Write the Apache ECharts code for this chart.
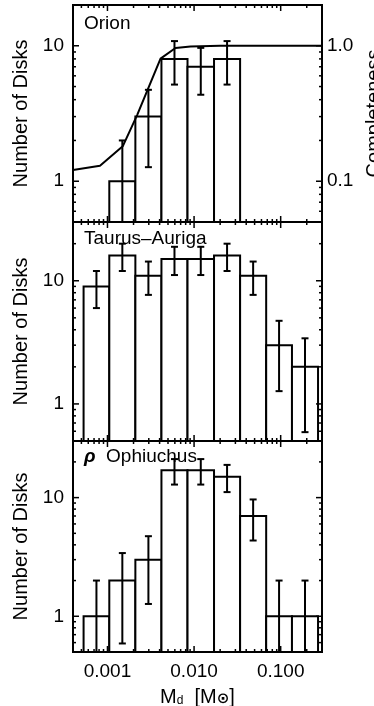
<!DOCTYPE html>
<html><head><meta charset="utf-8">
<script src="https://cdn.jsdelivr.net/npm/echarts@6/dist/echarts.min.js"></script>
<style>html,body{margin:0;padding:0;background:#fff}#c{width:374px;height:706px}</style>
</head><body><div id="c"></div>
<script>
// ---- data ----
const binEdges = [0.00053, 0.00105, 0.0021, 0.0042, 0.0084, 0.017, 0.034, 0.068, 0.135, 0.27];
const orionCounts = [0, 1, 3, 8, 7, 8, 0, 0, 0];
const orionErrLo  = [null, 0, 1.27, 5.17, 4.35, 5.17, null, null, null];
const orionErrHi  = [null, 2, 4.73, 10.83, 9.65, 10.83, null, null, null];
const taurusCounts = [9, 16, 11, 15, 15, 16, 11, 3, 2];
const taurusErrLo  = [6, 12, 7.68, 11.13, 11.13, 12, 7.68, 1.27, 0.59];
const taurusErrHi  = [12, 20, 14.32, 18.87, 18.87, 20, 14.32, 4.73, 3.41];
const ophCounts = [1, 2, 3, 17, 17, 15, 7, 1, 1];
const ophErrLo  = [0, 0.59, 1.27, 12.88, 12.88, 11.13, 4.35, 0, 0];
const ophErrHi  = [2, 3.41, 4.73, 21.12, 21.12, 18.87, 9.65, 2, 2];
const complMass  = [0.0004, 0.00082, 0.0015, 0.0022, 0.0041, 0.0061, 0.0091, 0.02, 0.3];
const complValue = [0.121, 0.130, 0.181, 0.308, 0.804, 0.962, 0.988, 1.0, 1.0];
const panelNames = ['Orion', 'Taurus–Auriga', '{r|ρ}  Ophiuchus'];
const xMajorTicks = [0.001, 0.01, 0.1];
const xMinorTicks = [0.0005, 0.0006, 0.0007, 0.0008, 0.0009, 0.002, 0.003, 0.004, 0.005, 0.006, 0.007, 0.008, 0.009,
                     0.02, 0.03, 0.04, 0.05, 0.06, 0.07, 0.08, 0.09, 0.2];
const yMajorTicks = [1, 10];
const yMinorTicks = [0.6, 0.7, 0.8, 0.9, 2, 3, 4, 5, 6, 7, 8, 9, 20];

// ---- layout ----
const FONT = '"Liberation Sans", Arial, Helvetica, sans-serif';
const grids = [
  {left: 73, top: 5, width: 249, height: 217},
  {left: 73, top: 222, width: 249, height: 219},
  {left: 73, top: 441, width: 249, height: 211}
];
const yRanges = [[0.5, 20], [0.5, 30], [0.5, 30]];
const yIdx = [0, 2, 3];

function isPow10(v) { const l = Math.log10(v); return Math.abs(l - Math.round(l)) < 1e-6; }

const chart = echarts.init(document.getElementById('c'), null, {renderer: 'canvas'});

const xAxes = grids.map((g, i) => ({
  type: 'log', logBase: 10, gridIndex: i, min: 0.0004, max: 0.3,
  axisLine: {show: false}, axisTick: {show: false}, splitLine: {show: false},
  axisLabel: {show: i === 2, margin: 10, fontSize: 19, fontFamily: FONT, color: '#000',
    formatter: v => isPow10(v) ? Number(v).toFixed(3) : ''},
  name: i === 2 ? '{a|M}{b|d}{a|  [M}{c|⊙}{a|]}' : '',
  nameLocation: 'middle', nameGap: 33,
  nameTextStyle: {color: '#000', rich: {
    a: {fontSize: 20, fontFamily: FONT, color: '#000', verticalAlign: 'bottom', lineHeight: 22},
    b: {fontSize: 12, fontFamily: FONT, color: '#000', verticalAlign: 'bottom', lineHeight: 18},
    c: {fontSize: 15, fontFamily: '"DejaVu Sans", sans-serif', fontWeight: 'bold', color: '#000', verticalAlign: 'bottom', lineHeight: 20}
  }}
}));

const yAxes = [];
grids.forEach((g, i) => {
  yAxes.push({
    type: 'log', logBase: 10, gridIndex: i, min: yRanges[i][0], max: yRanges[i][1], position: 'left',
    axisLine: {show: false}, axisTick: {show: false}, splitLine: {show: false},
    axisLabel: {margin: 9, fontSize: 19, fontFamily: FONT, color: '#000',
      formatter: v => isPow10(v) ? String(Math.round(v)) : ''},
    name: 'Number of Disks', nameLocation: 'middle', nameGap: 37, nameRotate: 90,
    nameTextStyle: {fontSize: 20, fontFamily: FONT, color: '#000'}
  });
  if (i === 0) {
    yAxes.push({
      type: 'log', logBase: 10, gridIndex: 0, min: 0.05, max: 2, position: 'right',
      axisLine: {show: false}, axisTick: {show: false}, splitLine: {show: false},
      axisLabel: {margin: 5, fontSize: 19, fontFamily: FONT, color: '#000',
        formatter: v => isPow10(v) ? Number(v).toFixed(1) : ''},
      name: 'Completeness', nameLocation: 'middle', nameGap: 38, nameRotate: 90,
      nameTextStyle: {fontSize: 20, fontFamily: FONT, color: '#000'}
    });
  }
});

const STROKE = {stroke: '#000', lineWidth: 2};

function barSeries(gi, counts) {
  const data = [];
  counts.forEach((n, k) => { if (n > 0) data.push([binEdges[k], binEdges[k + 1], n]); });
  return {
    type: 'custom', xAxisIndex: gi, yAxisIndex: yIdx[gi], clip: true, silent: true, z: 2,
    data, encode: {x: [0, 1], y: 2},
    renderItem: (params, api) => {
      const cs = params.coordSys;
      const p1 = api.coord([api.value(0), api.value(2)]);
      const p2 = api.coord([api.value(1), api.value(2)]);
      const bottom = cs.y + cs.height;
      return {type: 'rect', shape: {x: p1[0], y: p1[1], width: p2[0] - p1[0], height: bottom - p1[1]},
        style: {fill: '#fff', stroke: '#000', lineWidth: 2}};
    }
  };
}

function errSeries(gi, lo, hi) {
  const data = [];
  lo.forEach((l, k) => { if (l !== null) data.push([Math.sqrt(binEdges[k] * binEdges[k + 1]), l, hi[k]]); });
  return {
    type: 'custom', xAxisIndex: gi, yAxisIndex: yIdx[gi], clip: true, silent: true, z: 3,
    data, encode: {x: 0, y: [1, 2]},
    renderItem: (params, api) => {
      const cs = params.coordSys;
      const bottom = cs.y + cs.height;
      const c = api.value(0), l = api.value(1), h = api.value(2);
      const x = api.coord([c, 1])[0];
      const yh = api.coord([c, h])[1];
      const ch = [];
      let yl;
      if (l > 0) {
        yl = api.coord([c, l])[1];
        ch.push({type: 'line', shape: {x1: x - 3.5, y1: yl, x2: x + 3.5, y2: yl}, style: STROKE});
      } else {
        yl = bottom + 2;
      }
      ch.push({type: 'line', shape: {x1: x, y1: yl, x2: x, y2: yh}, style: STROKE});
      ch.push({type: 'line', shape: {x1: x - 3.5, y1: yh, x2: x + 3.5, y2: yh}, style: STROKE});
      return {type: 'group', children: ch};
    }
  };
}

function tickSeries(gi) {
  const yr = yRanges[gi];
  const xd = xMajorTicks.map(v => [v, 1, 1, 0]).concat(xMinorTicks.map(v => [v, 1, 0, 0]));
  const yd = yMajorTicks.map(v => [0.001, v, 1, 1]).concat(
    yMinorTicks.filter(v => v > yr[0] && v < yr[1]).map(v => [0.001, v, 0, 1]));
  return {
    type: 'custom', xAxisIndex: gi, yAxisIndex: yIdx[gi], silent: true, z: 10,
    data: xd.concat(yd), encode: {x: 0, y: 1},
    renderItem: (params, api) => {
      const cs = params.coordSys;
      const p = api.coord([api.value(0), api.value(1)]);
      const L = api.value(2) ? 6 : 3;
      const st = {stroke: '#000', lineWidth: 1.5};
      if (api.value(3) === 0) {
        const b = cs.y + cs.height, t = cs.y, x = p[0];
        return {type: 'group', children: [
          {type: 'line', shape: {x1: x, y1: b, x2: x, y2: b - L}, style: st},
          {type: 'line', shape: {x1: x, y1: t, x2: x, y2: t + L}, style: st}]};
      } else {
        const l = cs.x, r = cs.x + cs.width, y = p[1];
        return {type: 'group', children: [
          {type: 'line', shape: {x1: l, y1: y, x2: l + L, y2: y}, style: st},
          {type: 'line', shape: {x1: r, y1: y, x2: r - L, y2: y}, style: st}]};
      }
    }
  };
}

const series = [
  barSeries(0, orionCounts), errSeries(0, orionErrLo, orionErrHi),
  barSeries(1, taurusCounts), errSeries(1, taurusErrLo, taurusErrHi),
  barSeries(2, ophCounts), errSeries(2, ophErrLo, ophErrHi),
  {
    type: 'line', xAxisIndex: 0, yAxisIndex: 1, z: 4, silent: true, clip: true,
    data: complMass.map((m, k) => [m, complValue[k]]),
    showSymbol: false, symbol: 'none', lineStyle: {color: '#000', width: 2}
  },
  tickSeries(0), tickSeries(1), tickSeries(2)
];

const labelY = [24, 239, 457];
const graphic = panelNames.map((t, i) => ({
  type: 'text', x: 84, y: labelY[i], z: 20,
  style: {text: t, fontSize: 19, fontFamily: FONT, fill: '#000', verticalAlign: 'middle',
    rich: {r: {fontSize: 19, fontFamily: FONT, fontWeight: 'bold', fontStyle: 'italic', fill: '#000'}}}
}));

chart.setOption({
  animation: false,
  backgroundColor: '#fff',
  grid: grids.map(g => Object.assign({show: true, borderColor: '#000', borderWidth: 2, backgroundColor: 'transparent',
    containLabel: false, outerBoundsMode: 'none'}, g)),
  xAxis: xAxes,
  yAxis: yAxes,
  series,
  graphic
});
</script>
</body></html>
